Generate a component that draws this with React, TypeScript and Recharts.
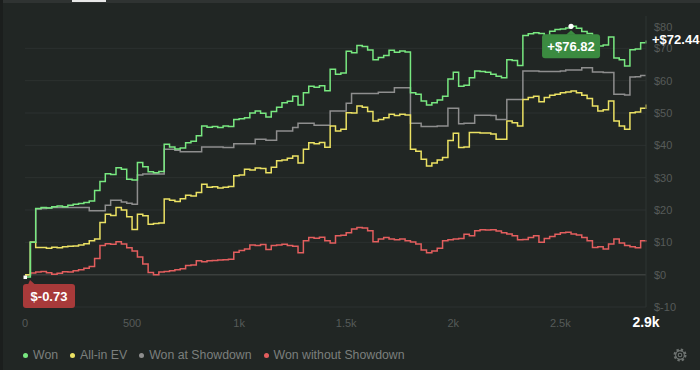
import { LineChart, Line, XAxis, YAxis, CartesianGrid, ReferenceLine } from 'recharts'

// one sample every 25 hands, 0 .. 2900
const STEP = 25

const won = [
  -0.73, 10, 20.5, 20.8, 20.6, 21.0, 21.2, 21.0, 21.5, 21.8,
  22.0, 22.3, 22.8, 26.0, 28.8, 31.2, 31.0, 33.1, 32.6, 29.5,
  29.3, 34.7, 33.4, 31.8, 31.5, 31.9, 40.3, 39.5, 38.9, 39.2,
  40.8, 41.3, 43.0, 46.0, 45.6, 45.8, 45.5, 46.0, 45.8, 48.0,
  48.2, 48.5, 50.0, 50.6, 49.9, 48.8, 50.5, 51.8, 53.2, 53.6,
  55.2, 52.5, 56.3, 58.3, 58.0, 58.4, 56.9, 63.5, 62.0, 62.4,
  69.1, 68.6, 70.9, 70.6, 69.5, 66.5, 67.2, 67.8, 69.4, 68.8,
  69.2, 68.9, 56.3, 55.8, 53.7, 52.5, 53.2, 54.0, 55.2, 60.5,
  62.6, 58.3, 58.6, 60.9, 63.0, 62.8, 62.6, 62.0, 61.4, 60.9,
  66.5, 66.2, 64.7, 74.0, 74.5, 74.8, 74.6, 73.3, 75.3, 75.8,
  76.0, 76.3, 76.82, 76.2, 75.2, 74.6, 72.7, 70.7, 71.0, 73.5,
  67.0, 66.5, 64.5, 69.6, 69.8, 71.7, 72.44,
]

const allInEv = [
  0, 10, 8.4, 8.4, 8.2, 8.5, 8.3, 8.6, 8.8, 8.9,
  9.2, 9.6, 10.5, 11.0, 16.1, 18.7, 18.3, 20.8, 20.0, 17.9,
  14.0, 18.7, 18.2, 15.6, 15.8, 16.0, 23.4, 23.0, 22.6, 23.5,
  24.6, 24.3, 25.4, 28.0, 27.0, 27.2, 26.8, 27.0, 27.3, 30.6,
  30.8, 32.6, 32.4, 33.0, 32.8, 31.5, 33.2, 35.2, 35.5, 36.0,
  36.7, 34.5, 38.8, 40.8, 40.5, 40.9, 39.4, 46.0, 44.4, 45.0,
  50.1, 50.0, 52.2, 51.8, 50.5, 47.5, 48.0, 48.5, 49.6, 49.2,
  49.6, 49.4, 38.8, 38.2, 35.7, 33.6, 34.5, 35.5, 36.2, 41.5,
  43.7, 39.3, 39.5, 44.0, 44.0, 43.8, 43.8, 43.5, 41.9, 41.9,
  47.5, 47.0, 46.0, 54.2, 54.8, 55.2, 53.5, 54.8, 55.5, 55.8,
  56.3, 56.5, 56.8, 56.3, 55.5, 54.5, 52.2, 50.6, 51.0, 53.7,
  47.5, 46.0, 45.0, 50.1, 50.3, 51.5, 52.6,
]

const wonAtShowdown = [
  0, 10, 20.3, 20.5, 20.6, 20.8, 20.8, 20.8, 20.8, 20.8,
  20.8, 20.8, 19.8, 19.8, 19.8, 21.5, 23.0, 23.0, 22.5, 22.1,
  21.8, 30.8, 31.1, 31.1, 31.1, 31.1, 38.8, 38.8, 38.5, 38.0,
  38.0, 38.0, 38.0, 39.5, 39.5, 39.5, 39.5, 39.3, 39.3, 40.5,
  40.5, 40.5, 40.5, 41.9, 41.9, 41.6, 41.6, 44.4, 44.4, 44.4,
  45.5, 46.8, 46.8, 46.8, 46.2, 46.2, 46.2, 50.6, 50.6, 50.6,
  53.0, 56.0, 56.0, 56.0, 56.0, 56.0, 56.4, 56.4, 56.4, 57.8,
  57.8, 57.8, 46.8, 46.8, 45.8, 45.8, 45.8, 46.0, 46.0, 51.5,
  51.5, 46.7, 46.8, 46.8, 49.3, 49.3, 49.3, 49.2, 48.0, 48.0,
  54.2, 54.2, 54.2, 63.0, 63.0, 63.0, 62.8, 62.8, 62.8, 62.8,
  63.0, 63.3, 63.3, 63.3, 64.0, 64.0, 62.7, 62.7, 62.5, 62.5,
  55.8, 55.8, 55.6, 61.1, 61.2, 61.6, 61.6,
]

const wonWithoutShowdown = [
  0, 0.5, 0.8, 1.0, 0.6, 0.1, 0.4, 0.9, 0.8, 1.2,
  1.5, 2.0, 2.5, 5.0, 9.0, 9.6, 9.4, 10.2, 9.5, 8.3,
  7.3, 5.5, 3.3, 0.7, 0.0, 0.8, 1.0, 1.2, 1.5, 1.8,
  2.8, 3.0, 4.3, 4.0, 4.3, 4.4, 4.5, 4.6, 4.8, 6.9,
  7.5, 7.9, 9.2, 9.0, 9.3, 7.8, 9.0, 9.2, 9.4, 9.0,
  8.8, 6.8, 10.5, 11.5, 11.3, 11.6, 10.5, 9.8, 12.0, 12.2,
  13.0, 14.1, 14.6, 14.4, 13.6, 10.2, 11.0, 11.5, 11.0, 10.8,
  11.0, 10.5, 10.1, 9.5, 7.6, 6.8, 7.3, 8.2, 10.5, 10.8,
  11.0, 11.2, 12.5, 12.0, 13.6, 13.9, 13.8, 13.9, 13.5, 13.0,
  12.6, 12.0, 10.8, 10.9, 11.5, 12.0, 10.0, 11.2, 11.8, 12.5,
  13.0, 13.1, 12.6, 12.3, 11.5, 10.5, 8.4, 8.6, 7.9, 9.5,
  11.0, 9.8, 9.0, 8.6, 8.3, 10.5, 10.2,
]

const xTicks = [0, 500, 1000, 1500, 2000, 2500, 2900]
const xTickLabels = ['0', '500', '1k', '1.5k', '2k', '2.5k', '2.9k']
const yTicks = [-10, 0, 10, 20, 30, 40, 50, 60, 70, 80]

const series = [
  { key: 'nsd', name: 'Won without Showdown', color: '#e35e5e' },
  { key: 'sd', name: 'Won at Showdown', color: '#8e8e8e' },
  { key: 'ev', name: 'All-in EV', color: '#ebe163' },
  { key: 'won', name: 'Won', color: '#78e880' },
]
const legendOrder = ['won', 'ev', 'sd', 'nsd']

const data = won.map((v, i) => ({
  hand: i * STEP,
  won: v,
  ev: allInEv[i],
  sd: wonAtShowdown[i],
  nsd: wonWithoutShowdown[i],
}))

const maxIdx = won.indexOf(Math.max(...won))
const minIdx = won.indexOf(Math.min(...won))
const lastIdx = won.length - 1

const font = '"Liberation Sans", Arial, sans-serif'

function HandTick(props: any) {
  const { x, y, payload } = props
  const i = xTicks.indexOf(payload.value)
  const last = i === xTicks.length - 1
  return (
    <text
      x={x}
      y={y + 12}
      textAnchor="middle"
      fill={last ? '#ffffff' : '#565b59'}
      fontSize={last ? 14 : 11}
      fontWeight={last ? 700 : 400}
      fontFamily={font}
    >
      {xTickLabels[i]}
    </text>
  )
}

function MoneyTick(props: any) {
  const { x, y, payload } = props
  const v = payload.value
  return (
    <text
      x={x}
      y={y + (v === 80 ? 11 : 0)}
      dy="0.36em"
      textAnchor="start"
      fill="#565b59"
      fontSize={11}
      fontFamily={font}
    >
      {'$' + v}
    </text>
  )
}

function WonLabel(props: any) {
  const { x, y, index } = props
  if (index === maxIdx) {
    return (
      <g>
        <rect x={x - 29} y={y + 8} width={58} height={24} rx={3} fill="#3b8b40" />
        <path d={`M${x - 5} ${y + 8.5} L${x} ${y + 4} L${x + 5} ${y + 8.5} Z`} fill="#3b8b40" />
        <circle cx={x} cy={y} r={2.6} fill="#ffffff" />
        <text x={x} y={y + 25} textAnchor="middle" fill="#ffffff" fontSize={13} fontWeight={700} fontFamily={font}>
          +${won[maxIdx].toFixed(2)}
        </text>
      </g>
    )
  }
  if (index === minIdx) {
    return (
      <g>
        <rect x={x - 2} y={y + 7} width={52} height={24} rx={3} fill="#a83a3a" />
        <path d={`M${x + 3} ${y + 7.5} L${x + 5} ${y + 3} L${x + 10} ${y + 7.5} Z`} fill="#a83a3a" />
        <rect x={x - 1.5} y={y - 1.5} width={3.5} height={3.5} fill="#ffffff" />
        <text x={x + 24} y={y + 24} textAnchor="middle" fill="#ffffff" fontSize={13} fontWeight={700} fontFamily={font}>
          ${won[minIdx].toFixed(2)}
        </text>
      </g>
    )
  }
  if (index === lastIdx) {
    return (
      <text x={x + 6} y={y + 4} fill="#ffffff" fontSize={13} fontWeight={700} fontFamily={font}>
        +${won[lastIdx].toFixed(2)}
      </text>
    )
  }
  return null
}

function GridLine(props: any) {
  const { x1, x2, y1, y2 } = props
  if (y1 < 20) return <g />
  return <line x1={x1} x2={x2} y1={y1} y2={y2} stroke="#2c3130" strokeWidth={1} />
}

function Gear() {
  return (
    <svg width={16} height={16} viewBox="0 0 16 16">
      <circle cx={8} cy={8} r={5.2} fill="none" stroke="#6d7270" strokeWidth={2.6} strokeDasharray="2.2 1.9" />
      <circle cx={8} cy={8} r={4.4} fill="none" stroke="#6d7270" strokeWidth={1.1} />
      <circle cx={8} cy={8} r={1.8} fill="none" stroke="#6d7270" strokeWidth={1.1} />
    </svg>
  )
}

export default function App() {
  return (
    <div
      style={{
        position: 'absolute',
        left: 0,
        top: 0,
        width: 700,
        height: 370,
        background: '#212624',
        overflow: 'hidden',
        fontFamily: font,
      }}
    >
      <div style={{ position: 'absolute', left: 0, top: 0, width: 700, height: 3, background: '#2f3332' }} />
      <div style={{ position: 'absolute', left: 72, top: 0, width: 34, height: 2, background: '#e8e8e8' }} />
      <div style={{ position: 'absolute', left: 0, top: 0, width: 3, height: 370, background: '#1b1e1d' }} />

      <LineChart
        width={700}
        height={340}
        data={data}
        margin={{ top: 16, right: 0, bottom: 3, left: 25 }}
      >
        <CartesianGrid vertical={false} horizontal={GridLine} />
        <XAxis
          dataKey="hand"
          type="number"
          domain={[0, 2900]}
          ticks={xTicks}
          interval={0}
          tick={HandTick}
          tickLine={false}
          axisLine={false}
          height={30}
        />
        <YAxis
          orientation="right"
          domain={[-10, 80]}
          ticks={yTicks}
          interval={0}
          tick={MoneyTick}
          tickLine={false}
          axisLine={{ stroke: '#2f3432' }}
          width={54}
        />
        <ReferenceLine y={0} stroke="#3a3f3d" strokeWidth={1.5} />
        {series.map((s) => (
          <Line
            key={s.key}
            type="stepAfter"
            dataKey={s.key}
            name={s.name}
            stroke={s.color}
            strokeWidth={1.5}
            dot={false}
            activeDot={false}
            isAnimationActive={false}
            label={s.key === 'won' ? WonLabel : undefined}
          />
        ))}
      </LineChart>

      <div
        style={{
          position: 'absolute',
          left: 23,
          top: 348,
          display: 'flex',
          alignItems: 'center',
          fontSize: 12.3,
          color: '#7b7f7d',
        }}
      >
        {legendOrder.map((k) => {
          const s = series.find((d) => d.key === k)!
          return (
            <span key={k} style={{ display: 'flex', alignItems: 'center', marginRight: 12 }}>
              <span
                style={{
                  width: 5,
                  height: 5,
                  borderRadius: '50%',
                  background: s.color,
                  marginRight: 5,
                  display: 'inline-block',
                }}
              />
              {s.name}
            </span>
          )
        })}
      </div>
      <div style={{ position: 'absolute', left: 672, top: 347 }}>
        <Gear />
      </div>
    </div>
  )
}
